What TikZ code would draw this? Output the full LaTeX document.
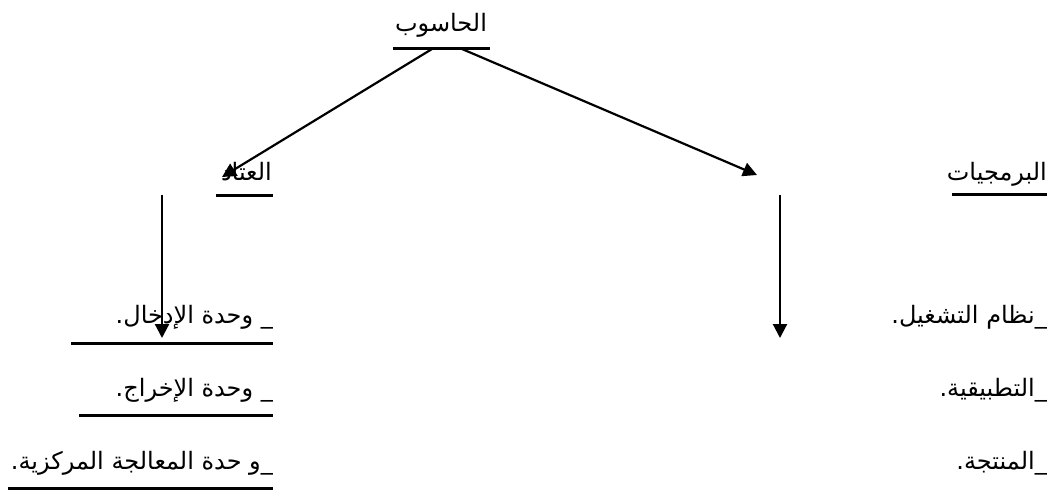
\documentclass[tikz,border=0pt]{standalone}
\usepackage{fontspec}
\TeXXeTstate=1
\newfontfamily\arabicfont[Script=Arabic]{DejaVu Sans}
\usetikzlibrary{arrows.meta}
\begin{document}
\begin{tikzpicture}[x=1pt,y=-1pt,
  lbl/.style={inner sep=0pt, font=\arabicfont\fontsize{24}{28}\selectfont},
  uline/.style={line width=3pt},
  arr/.style={line width=2.2pt,-{Triangle[length=14pt,width=14pt]}}]
\useasboundingbox[fill=white] (0,0) rectangle (1052,490);
% headers
\node[lbl,anchor=base] (comp) at (441,31) {\beginR الحاسوب\endR};
\node[lbl,anchor=base east] (hw) at (272,180) {\beginR العتاد\endR};
\node[lbl,anchor=base east] (sw) at (1047,180) {\beginR البرمجيات\endR};
% left items
\node[lbl,anchor=base east] (h1) at (273,323) {\beginR \_ وحدة الإدخال.\endR};
\node[lbl,anchor=base east] (h2) at (273,396) {\beginR \_ وحدة الإخراج.\endR};
\node[lbl,anchor=base east] (h3) at (273,469) {\beginR \_و حدة المعالجة المركزية.\endR};
% right items
\node[lbl,anchor=base east] (s1) at (1047,323) {\beginR \_نظام التشغيل.\endR};
\node[lbl,anchor=base east] (s2) at (1047,396) {\beginR \_التطبيقية.\endR};
\node[lbl,anchor=base east] (s3) at (1047,469) {\beginR \_المنتجة.\endR};
% underlines
\draw[uline] (393,48) -- (490,48);
\draw[uline] (216,195) -- (273,195);
\draw[uline] (952,194) -- (1047,194);
\draw[uline] (71,343) -- (273,343);
\draw[uline] (79,415) -- (273,415);
\draw[uline] (8,488) -- (273,488);
% arrow coordinates
\coordinate (cL) at (432,49);
\coordinate (cR) at (462,49);
\coordinate (hwT) at (222,177);
\coordinate (swT) at (757,175);
\coordinate (v1a) at (162,195);
\coordinate (v1b) at (162,338);
\coordinate (v2a) at (780,195);
\coordinate (v2b) at (780,338);
\draw[arr] (cL) -- (hwT);
\draw[arr] (cR) -- (swT);
\draw[arr] (v1a) -- (v1b);
\draw[arr] (v2a) -- (v2b);
\end{tikzpicture}
\end{document}
